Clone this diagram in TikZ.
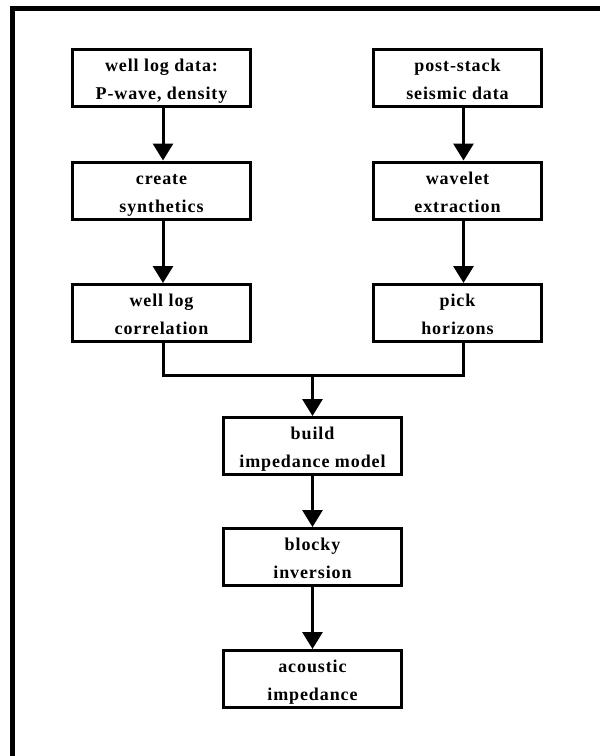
\documentclass[tikz,border=0pt]{standalone}
\usepackage{fontspec}
\setmainfont{Liberation Serif}[LetterSpace=5]
\usetikzlibrary{arrows.meta}
\begin{document}
\begin{tikzpicture}[x=1pt,y=-1pt,
  stepbox/.style={draw,line width=3pt,minimum width=178pt,minimum height=57pt,inner sep=0pt,
    align=center,font=\fontsize{18}{28}\selectfont\bfseries,
    text height=43pt,text depth=-1pt},
  narrowbox/.style={stepbox,minimum width=168pt},
  flow/.style={line width=3pt,-{Triangle[length=17pt,width=20pt]}},
  link/.style={line width=3pt}]
\useasboundingbox (0,0) rectangle (600,756);
\clip (0,0) rectangle (600,756);
\draw[line width=5pt] (12.5,770) -- (12.5,8.5) -- (610,8.5);
% left column
\node[stepbox] (l1) at (161.5,78) {well log data:\\P-wave, density};
\node[stepbox] (l2) at (161.5,190.5) {create\\synthetics};
\node[stepbox] (l3) at (161.5,313) {well log\\correlation};
% right column
\node[narrowbox] (r1) at (457.5,78) {post-stack\\seismic data};
\node[narrowbox] (r2) at (457.5,190.5) {wavelet\\extraction};
\node[narrowbox] (r3) at (457.5,313) {pick\\horizons};
% middle column
\node[stepbox] (m1) at (312.5,446) {build\\impedance model};
\node[stepbox] (m2) at (312.5,557) {blocky\\inversion};
\node[stepbox] (m3) at (312.5,679) {acoustic\\impedance};
\coordinate (j) at (312.5,375);
% connectors
\draw[flow] ([xshift=1.5pt]l1.south) -- ([xshift=1.5pt]l2.north);
\draw[flow] ([xshift=1.5pt]l2.south) -- ([xshift=1.5pt]l3.north);
\draw[flow] ([xshift=6pt]r1.south) -- ([xshift=6pt]r2.north);
\draw[flow] ([xshift=6pt]r2.south) -- ([xshift=6pt]r3.north);
\draw[link] ([xshift=1.5pt]l3.south) |- (j) -| ([xshift=6pt]r3.south);
\draw[flow] (j) -- (m1.north);
\draw[flow] (m1) -- (m2);
\draw[flow] (m2) -- (m3);
\end{tikzpicture}
\end{document}
